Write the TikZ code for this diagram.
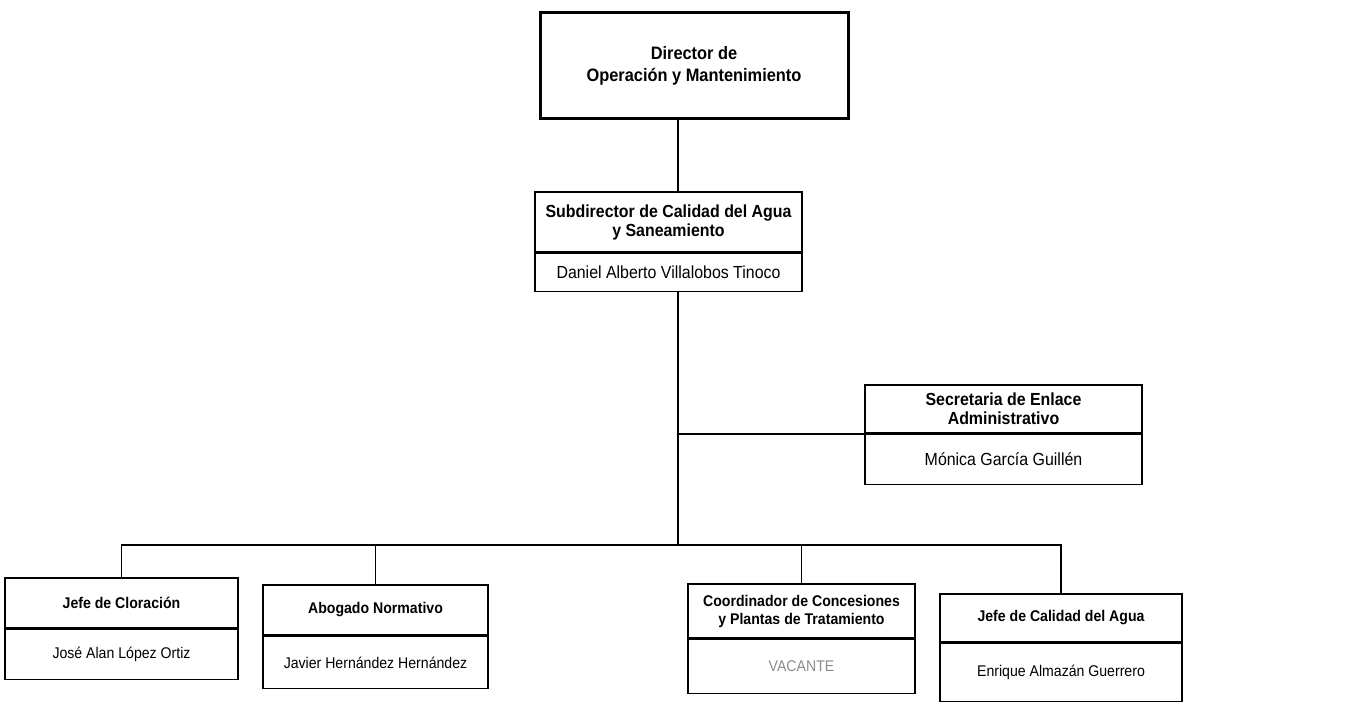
\documentclass[tikz,border=0pt]{standalone}
\usepackage{fontspec}
\setmainfont{Liberation Sans}
\newfontfamily\narrowsans[FakeStretch=0.91]{Liberation Sans}
\begin{document}
\begin{tikzpicture}[x=1pt,y=-1pt,
  box/.style={draw, line width=1.6pt, inner sep=0pt, align=center},
  bigtitle/.style={box, font=\narrowsans\bfseries\fontsize{17.5}{19}\selectfont},
  bigname/.style={box, font=\narrowsans\fontsize{17.5}{19}\selectfont},
  smalltitle/.style={box, font=\narrowsans\bfseries\fontsize{15.5}{18}\selectfont},
  smallname/.style={box, font=\narrowsans\fontsize{15.5}{18}\selectfont},
  link/.style={line width=1.6pt}]
\useasboundingbox (0,0) rectangle (1353,722);
\fill[white] (0,0) rectangle (1353,722);

% Director
\node[box, line width=3pt, font=\narrowsans\bfseries\fontsize{18}{22}\selectfont,
      minimum width=308pt, minimum height=106pt] (dir) at (694,66)
      {Director de\\Operación y Mantenimiento};

% Subdirector
\node[bigtitle, minimum width=267pt, minimum height=60pt] (sub) at (668.5,222)
      {Subdirector de Calidad del Agua\\y Saneamiento};
\node[bigname, minimum width=267pt, minimum height=38pt, anchor=north] (subn) at (sub.south)
      {Daniel Alberto Villalobos Tinoco};

% Secretaria
\node[bigtitle, minimum width=277pt, minimum height=48pt] (sec) at (1003.5,409)
      {Secretaria de Enlace\\Administrativo};
\node[bigname, minimum width=277pt, minimum height=50pt, anchor=north] (secn) at (sec.south)
      {Mónica García Guillén};

% Bottom row
\node[smalltitle, minimum width=233pt, minimum height=50pt] (clo) at (121.5,603)
      {Jefe de Cloración};
\node[smallname, minimum width=233pt, minimum height=50pt, anchor=north] (clon) at (clo.south)
      {José Alan López Ortiz};

\node[smalltitle, minimum width=225pt, minimum height=50pt] (abo) at (375.5,610)
      {Abogado Normativo};
\node[smallname, minimum width=225pt, minimum height=52pt, anchor=north] (abon) at (abo.south)
      {Javier Hernández Hernández};

\node[smalltitle, minimum width=227pt, minimum height=54pt] (coo) at (801.5,611)
      {Coordinador de Concesiones\\y Plantas de Tratamiento};
\node[smallname, minimum width=227pt, minimum height=54pt, anchor=north, text=black!45] (coon) at (coo.south)
      {VACANTE};

\node[smalltitle, minimum width=242pt, minimum height=48pt] (jca) at (1061,618)
      {Jefe de Calidad del Agua};
\node[smallname, minimum width=242pt, minimum height=58pt, anchor=north] (jcan) at (jca.south)
      {Enrique Almazán Guerrero};

% Connectors
\coordinate (t) at (678,0);
\coordinate (busY) at (0,545);
\draw[link] (dir.south -| t) -- (sub.north -| t);
\draw[link] (subn.south -| t) -- (busY -| t);
\draw[link] (t |- sec.south) -- (sec.south west);
\draw[link] (clo.north) -- (clo.north |- busY) -- (jca.north |- busY) -- (jca.north);
\draw[link] (abo.north |- busY) -- (abo.north);
\draw[link] (coo.north |- busY) -- (coo.north);
\end{tikzpicture}
\end{document}
